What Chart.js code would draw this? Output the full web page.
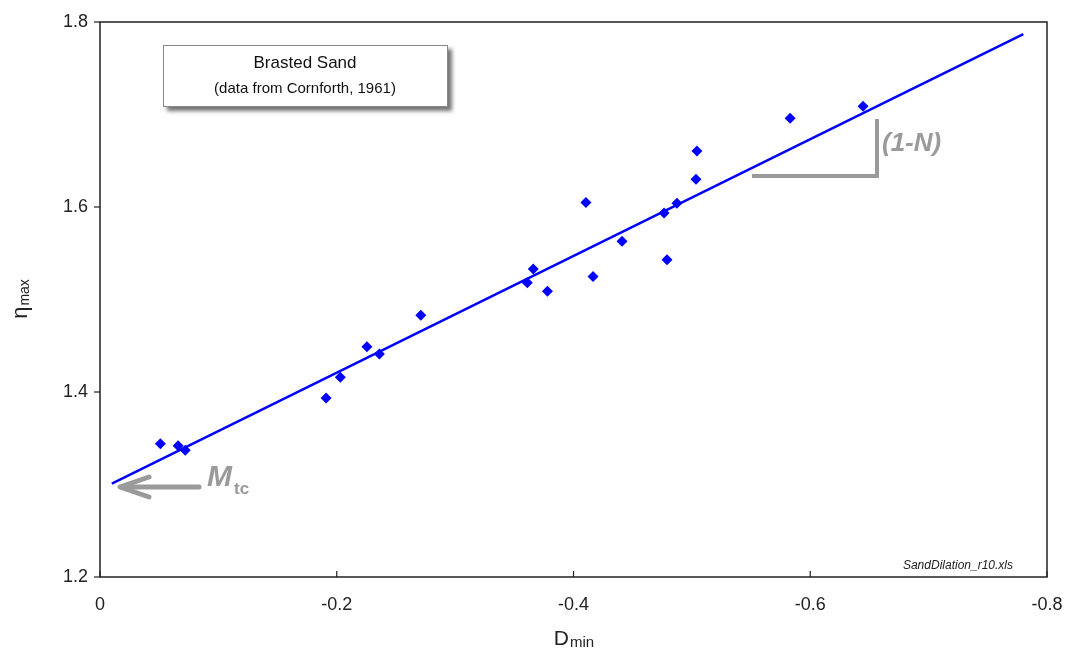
<!DOCTYPE html>
<html><head><meta charset="utf-8">
<script src="https://cdn.jsdelivr.net/npm/chart.js@4"></script>
<style>html,body{margin:0;padding:0;background:#fff}#wrap{width:1066px;height:650px}</style>
</head><body><div id="wrap"><canvas id="c" width="1066" height="650"></canvas></div>
<script>
const dMin = [-0.051,-0.066,-0.072,-0.191,-0.203,-0.2255,-0.236,-0.271,-0.361,-0.366,-0.378,-0.4105,-0.4165,-0.441,-0.4765,-0.479,-0.4874,-0.5035,-0.5043,-0.583,-0.6446];
const etaMax = [1.344,1.342,1.337,1.3935,1.416,1.449,1.441,1.483,1.518,1.533,1.509,1.605,1.525,1.563,1.5935,1.543,1.604,1.630,1.6605,1.696,1.709];
const fitX = [-0.01,-0.78];
const fitY = [1.301,1.787];
const xTicks = [0,-0.2,-0.4,-0.6,-0.8];
const yTicks = [1.2,1.4,1.6,1.8];
const titleLines = ['Brasted Sand','(data from Cornforth, 1961)'];
const fileLabel = 'SandDilation_r10.xls';

const sans = '"Liberation Sans", Arial, sans-serif';

const deco = {
  id:'deco',
  afterDraw(chart){
    const ctx = chart.ctx, a = chart.chartArea, xs = chart.scales.x, ys = chart.scales.y;
    ctx.save();
    // frame
    ctx.strokeStyle = '#222'; ctx.lineWidth = 1.5;
    ctx.strokeRect(a.left, a.top, a.right-a.left, a.bottom-a.top);
    // y ticks outward
    ctx.lineWidth = 1.2;
    yTicks.forEach(v=>{const y=ys.getPixelForValue(v);ctx.beginPath();ctx.moveTo(a.left-6,y);ctx.lineTo(a.left,y);ctx.stroke();});
    // x ticks inward
    xTicks.forEach(v=>{const x=xs.getPixelForValue(v);ctx.beginPath();ctx.moveTo(x,a.bottom);ctx.lineTo(x,a.bottom-6);ctx.stroke();});
    // axis titles
    ctx.fillStyle = '#222';
    ctx.textBaseline = 'alphabetic';
    ctx.font = '21px ' + sans;
    let cx = (a.left+a.right)/2;
    const wD = ctx.measureText('D').width;
    ctx.font = '15px ' + sans;
    const wm = ctx.measureText('min').width;
    let sx = cx - (wD+wm)/2;
    ctx.font = '21px ' + sans; ctx.textAlign='left';
    ctx.fillText('D', sx, 645);
    ctx.font = '15px ' + sans;
    ctx.fillText('min', sx+wD+1, 647);
    // y title
    ctx.save();
    ctx.translate(27, (a.top+a.bottom)/2);
    ctx.rotate(-Math.PI/2);
    ctx.font = '22px ' + sans;
    const we = ctx.measureText('η').width;
    ctx.font = '14px ' + sans;
    const wx = ctx.measureText('max').width;
    ctx.textAlign='left';
    ctx.font = '22px ' + sans;
    ctx.fillText('η', -(we+wx)/2, 0);
    ctx.font = '14px ' + sans;
    ctx.fillText('max', -(we+wx)/2+we+1, 2);
    ctx.restore();

    // legend-like box
    ctx.save();
    ctx.shadowColor = 'rgba(0,0,0,0.55)'; ctx.shadowBlur = 4; ctx.shadowOffsetX = 4; ctx.shadowOffsetY = 4;
    ctx.fillStyle = '#fff';
    ctx.fillRect(163,45,285,62);
    ctx.restore();
    ctx.strokeStyle = '#888'; ctx.lineWidth = 1;
    ctx.strokeRect(163.5,45.5,284,61);
    ctx.fillStyle = '#111'; ctx.textAlign='center';
    ctx.font = '17px ' + sans;
    ctx.fillText(titleLines[0], 305, 68);
    ctx.font = '15px ' + sans;
    ctx.fillText(titleLines[1], 305, 93);

    // Mtc arrow
    const gray = '#9a9a9a';
    ctx.strokeStyle = gray; ctx.lineWidth = 5; ctx.lineCap='round'; ctx.lineJoin='round';
    ctx.beginPath(); ctx.moveTo(199,487); ctx.lineTo(122,487); ctx.stroke();
    ctx.beginPath(); ctx.moveTo(149,477); ctx.lineTo(120,487); ctx.lineTo(149,497); ctx.stroke();
    ctx.fillStyle = gray; ctx.textAlign='left';
    ctx.font = 'italic bold 30px ' + sans;
    ctx.fillText('M', 207, 486);
    ctx.font = 'bold 17px ' + sans;
    ctx.fillText('tc', 234, 494);

    // (1-N) triangle
    ctx.lineCap='butt'; ctx.lineJoin='miter'; ctx.lineWidth = 4;
    ctx.beginPath(); ctx.moveTo(752,176); ctx.lineTo(877,176); ctx.lineTo(877,119); ctx.stroke();
    ctx.font = 'italic bold 26px ' + sans;
    ctx.fillText('(1-N)', 882, 151);

    // file label
    ctx.fillStyle = '#222'; ctx.textAlign='right';
    ctx.font = 'italic 12px ' + sans;
    ctx.fillText(fileLabel, 1013, 569);
    ctx.restore();
  }
};

new Chart(document.getElementById('c'), {
  type:'scatter',
  data:{datasets:[
    {label:'fit', type:'line', data: fitX.map((x,i)=>({x, y: fitY[i]})), borderColor:'#0000ff', borderWidth:2.5, pointRadius:0, showLine:true, order:2},
    {label:'data', data: dMin.map((x,i)=>({x, y: etaMax[i]})), pointStyle:'rectRot', pointRadius:5.5, backgroundColor:'#0000ff', borderColor:'#0000ff', borderWidth:0, order:1}
  ]},
  options:{
    responsive:false, animation:false, devicePixelRatio:1,
    layout:{padding:{top:22,right:19,left:0,bottom:0}},
    plugins:{legend:{display:false}, tooltip:{enabled:false}},
    scales:{
      x:{type:'linear', reverse:true, min:-0.8, max:0,
        afterFit(s){s.height=73; s.paddingLeft=0; s.paddingRight=0;},
        grid:{display:false, drawTicks:false}, border:{display:false},
        afterBuildTicks(s){s.ticks = xTicks.map(v=>({value:v}));},
        ticks:{padding:17, color:'#222', font:{family:sans, size:18},
          callback:v=> v===0 ? '0' : v.toFixed(1)}},
      y:{type:'linear', min:1.2, max:1.8,
        afterFit(s){s.width=100; s.paddingTop=0; s.paddingBottom=0;},
        grid:{display:false, drawTicks:false}, border:{display:false},
        afterBuildTicks(s){s.ticks = yTicks.map(v=>({value:v}));},
        ticks:{padding:12, color:'#222', font:{family:sans, size:18},
          callback:v=> v.toFixed(1)}}
    }
  },
  plugins:[deco]
});
</script></body></html>
